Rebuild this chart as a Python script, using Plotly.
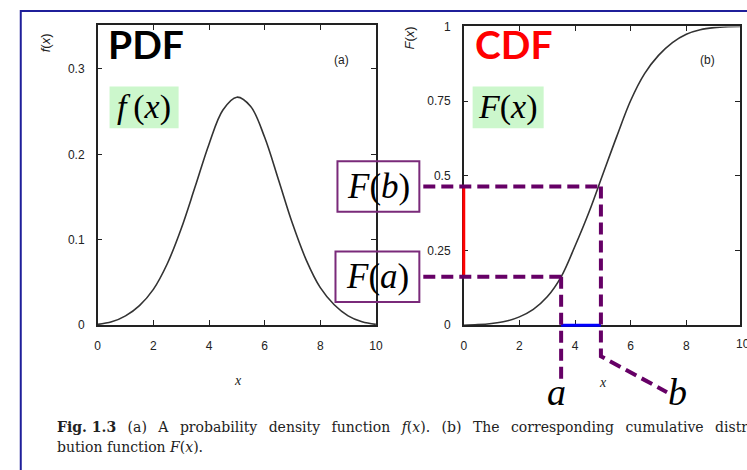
import plotly.graph_objects as go

# ---------------- data ----------------
pdf_x = [0, 0.5, 1.0, 1.5, 2.0, 2.5, 3.0, 3.5, 4.0, 4.5, 5.0, 5.5, 6.0, 6.5, 7.0, 7.5, 8.0, 8.5, 9.0, 9.5, 10]
pdf_y = [0.001, 0.004, 0.011, 0.023, 0.042, 0.072, 0.113, 0.162, 0.212, 0.252, 0.267,
         0.256, 0.220, 0.170, 0.119, 0.076, 0.044, 0.024, 0.011, 0.004, 0.001]

cdf_x = [0, 0.5, 1.0, 1.5, 2.0, 2.5, 3.0, 3.5, 4.0, 4.5, 5.0, 5.5, 6.0, 6.5, 7.0,
         7.5, 8.0, 8.5, 9.0, 9.5, 10]
cdf_y = [0, 0.002, 0.006, 0.013, 0.028, 0.053, 0.095, 0.162, 0.265, 0.378, 0.505,
         0.632, 0.752, 0.842, 0.903, 0.946, 0.974, 0.989, 0.996, 0.999, 1.0]

pdf_xticks = [0, 2, 4, 6, 8, 10]
pdf_yticks = [0, 0.1, 0.2, 0.3]
pdf_yticktext = ["0", "0.1", "0.2", "0.3"]
cdf_xticks = [0, 2, 4, 6, 8, 10]
cdf_yticks = [0, 0.25, 0.5, 0.75, 1]
cdf_yticktext = ["0", "0.25", "0.5", "0.75", "1"]

a_val, b_val = 3.5, 4.93
Fa_val, Fb_val = 0.162, 0.464

caption_line1 = ["<b>Fig. 1.3</b>", "(a)", "A", "probability", "density", "function", "<i>f</i>(<i>x</i>).",
                 "(b)", "The", "corresponding", "cumulative", "distri-"]
caption_line2 = "bution function <i>F</i>(<i>x</i>)."

# ---------------- layout geometry ----------------
W, H = 747, 470
def px(v): return v / W
def py(v): return 1 - v / H

X1_DOM = [px(96), px(378)]; X1_RANGE = [0, 10]
Y1_DOM = [py(328), py(19)]; Y1_RANGE = [0, 0.351]
X2_DOM = [px(467), 1.0];    X2_RANGE = [0, (747 - 467) / 28.2]
Y2_DOM = [py(328), py(20)]; Y2_RANGE = [0, 1]

def x2p(x): return X2_DOM[0] + (x - X2_RANGE[0]) / (X2_RANGE[1] - X2_RANGE[0]) * (X2_DOM[1] - X2_DOM[0])
def y2p(y): return Y2_DOM[0] + (y - Y2_RANGE[0]) / (Y2_RANGE[1] - Y2_RANGE[0]) * (Y2_DOM[1] - Y2_DOM[0])

INK = "#222222"
PURPLE = "#660066"
BOXPURPLE = "#7a2a7a"
GREEN = "#ccf7cc"

fig = go.Figure()
fig.add_trace(go.Scatter(x=pdf_x, y=pdf_y, mode="lines", xaxis="x", yaxis="y",
                         line=dict(color="#333333", width=1.6, shape="spline", smoothing=1.0),
                         showlegend=False, hoverinfo="skip"))
fig.add_trace(go.Scatter(x=cdf_x, y=cdf_y, mode="lines", xaxis="x2", yaxis="y2",
                         line=dict(color="#333333", width=1.6, shape="spline", smoothing=1.0),
                         showlegend=False, hoverinfo="skip"))

axis_common = dict(showline=True, linecolor=INK, linewidth=1.5, mirror="ticks", ticks="inside",
                   ticklen=5, tickwidth=1.2, tickcolor=INK, showgrid=False, zeroline=False,
                   tickfont=dict(family="Liberation Sans", size=12, color=INK),
                   ticklabelstandoff=9, fixedrange=True)

fig.update_layout(
    width=W, height=H, margin=dict(l=0, r=0, t=0, b=0),
    paper_bgcolor="white", plot_bgcolor="white",
    xaxis=dict(domain=X1_DOM, range=X1_RANGE, anchor="y", tickvals=pdf_xticks, **axis_common),
    yaxis=dict(domain=Y1_DOM, range=Y1_RANGE, anchor="x", tickvals=pdf_yticks,
               ticktext=pdf_yticktext, **axis_common),
    xaxis2=dict(domain=X2_DOM, range=X2_RANGE, anchor="y2", tickvals=cdf_xticks, **axis_common),
    yaxis2=dict(domain=Y2_DOM, range=Y2_RANGE, anchor="x2", tickvals=cdf_yticks,
                ticktext=cdf_yticktext, **axis_common),
)

shapes = []
# outer blue frame
shapes.append(dict(type="rect", xref="paper", yref="paper", x0=px(18), x1=px(770), y0=py(4), y1=py(490),
                   line=dict(color="#1f1f9a", width=2), fillcolor="rgba(0,0,0,0)", layer="below"))
# green label boxes
shapes.append(dict(type="rect", xref="paper", yref="paper", x0=px(108), x1=px(178), y0=py(125), y1=py(82),
                   line=dict(width=0), fillcolor=GREEN, layer="below"))
shapes.append(dict(type="rect", xref="paper", yref="paper", x0=px(476), x1=px(548), y0=py(125), y1=py(82),
                   line=dict(width=0), fillcolor=GREEN, layer="below"))
# F(b), F(a) boxes
half = 26 / H
shapes.append(dict(type="rect", xref="paper", yref="paper", x0=px(339), x1=px(422),
                   y0=y2p(Fb_val) - half, y1=y2p(Fb_val) + half,
                   line=dict(color=BOXPURPLE, width=2), fillcolor="rgba(0,0,0,0)"))
shapes.append(dict(type="rect", xref="paper", yref="paper", x0=px(337), x1=px(422),
                   y0=y2p(Fa_val) - half, y1=y2p(Fa_val) + half,
                   line=dict(color=BOXPURPLE, width=2), fillcolor="rgba(0,0,0,0)"))
# red interval on F axis, blue interval on x axis
shapes.append(dict(type="line", xref="paper", yref="paper", x0=x2p(0), x1=x2p(0),
                   y0=y2p(Fa_val), y1=y2p(Fb_val), line=dict(color="#ff0000", width=3)))
shapes.append(dict(type="line", xref="paper", yref="paper", x0=x2p(a_val), x1=x2p(b_val),
                   y0=y2p(0), y1=y2p(0), line=dict(color="#0000ff", width=3)))
# dashed guides
dash = dict(color=PURPLE, width=4, dash="12px,6px")
shapes.append(dict(type="line", xref="paper", yref="paper", x0=px(426), x1=x2p(b_val),
                   y0=y2p(Fb_val), y1=y2p(Fb_val), line=dash))
shapes.append(dict(type="line", xref="paper", yref="paper", x0=px(426), x1=x2p(a_val),
                   y0=y2p(Fa_val), y1=y2p(Fa_val), line=dash))
shapes.append(dict(type="path", xref="paper", yref="paper",
                   path=f"M {x2p(b_val)},{y2p(Fb_val)} L {x2p(b_val)},{py(360)} L {px(673)},{py(397)}",
                   line=dash))
shapes.append(dict(type="line", xref="paper", yref="paper", x0=x2p(a_val), x1=x2p(a_val),
                   y0=y2p(Fa_val), y1=py(387), line=dash))
fig.update_layout(shapes=shapes)

ann = []
def add(text, x, y, size, family, color="black", xanchor="center", yanchor="middle", angle=0):
    ann.append(dict(text=text, x=x, y=y, xref="paper", yref="paper", showarrow=False,
                    xanchor=xanchor, yanchor=yanchor, textangle=angle,
                    font=dict(size=size, family=family, color=color)))

add("<b>PDF</b>", px(145), py(38), 39, "Lato")
add("<b>CDF</b>", px(518), py(38), 39, "Lato", color="#ff0000")
add("(a)", px(343), py(55), 12, "Liberation Sans", color=INK)
add("(b)", px(714), py(55), 12, "Liberation Sans", color=INK)
add("<i>f</i>\u2009(<i>x</i>)", px(143), py(103), 34, "Liberation Serif")
add("<i>F</i>(<i>x</i>)", px(512), py(103), 34, "Liberation Serif")
add("<i>f</i>(<i>x</i>)", px(43), py(37), 13, "Liberation Sans", color=INK, angle=-90)
add("<i>F</i>(<i>x</i>)", px(412), py(32), 13, "Liberation Sans", color=INK, angle=-90)
add("<i>x</i>", px(238), py(385), 14, "Liberation Serif", color=INK)
add("<i>x</i>", px(608), py(387), 14, "Liberation Serif", color=INK)
add("10", px(750), py(347), 12, "Liberation Sans", color=INK)
add("<i>F</i>(<i>b</i>)", px(380.5), y2p(Fb_val), 35, "Liberation Serif")
add("<i>F</i>(<i>a</i>)", px(379.5), y2p(Fa_val), 35, "Liberation Serif")
add("<i>a</i>", px(561), py(397), 38, "Liberation Serif")
add("<i>b</i>", px(684), py(397), 38, "Liberation Serif")
# justified caption: widened word gaps on the first line
add(" \u2002".join(caption_line1), px(53), py(433), 14, "DejaVu Serif", color=INK, xanchor="left")
add(caption_line2, px(53), py(454), 14, "DejaVu Serif", color=INK, xanchor="left")
fig.update_layout(annotations=ann)

fig.write_html("out.html")
